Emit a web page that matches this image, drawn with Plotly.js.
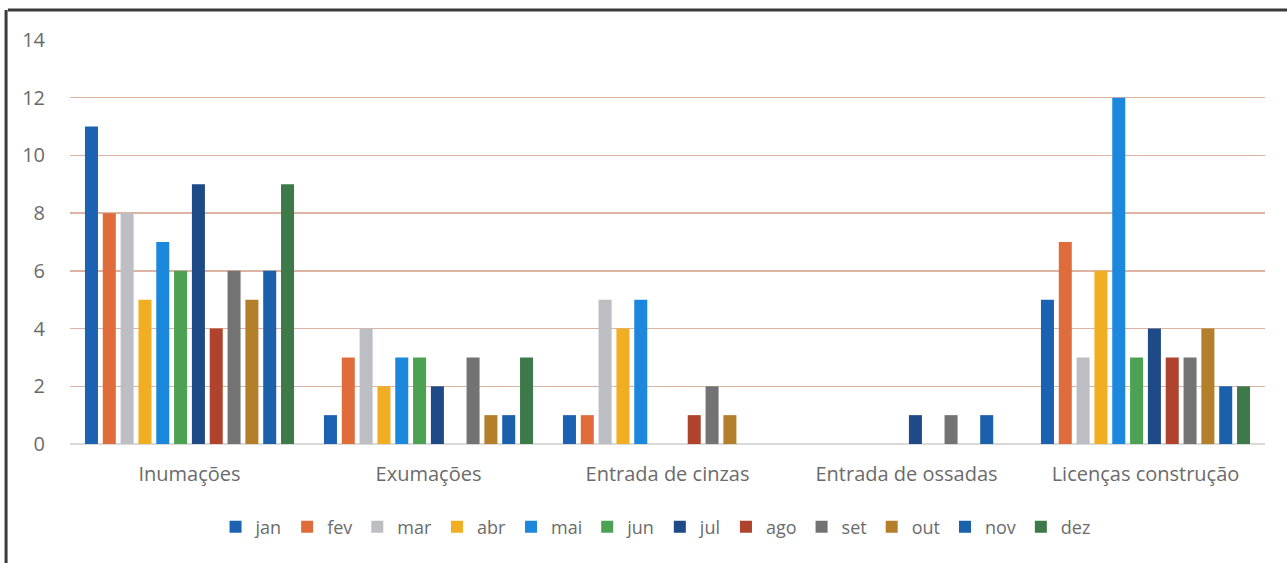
<!DOCTYPE html>
<html>
<head>
<meta charset="utf-8">
<script src="https://cdn.plot.ly/plotly-3.0.1.min.js"></script>
<style>
  html, body { margin: 0; padding: 0; background: #ffffff; }
  #chart { width: 1287px; height: 563px; }
</style>
</head>
<body>
<div id="chart"></div>
<script>
const categories = ["Inumações", "Exumações", "Entrada de cinzas", "Entrada de ossadas", "Licenças construção"];
const months = ["jan", "fev", "mar", "abr", "mai", "jun", "jul", "ago", "set", "out", "nov", "dez"];
const jan = [11, 1, 1, 0, 5];
const fev = [8, 3, 1, 0, 7];
const mar = [8, 4, 5, 0, 3];
const abr = [5, 2, 4, 0, 6];
const mai = [7, 3, 5, 0, 12];
const jun = [6, 3, 0, 0, 3];
const jul = [9, 2, 0, 1, 4];
const ago = [4, 0, 1, 0, 3];
const set = [6, 3, 2, 1, 3];
const out = [5, 1, 1, 0, 4];
const nov = [6, 1, 0, 1, 2];
const dez = [9, 3, 0, 0, 2];
const seriesValues = [jan, fev, mar, abr, mai, jun, jul, ago, set, out, nov, dez];
const colors = ["#1B62B3", "#E06C3C", "#BDBDC4", "#F2AE22", "#1B88DE", "#4DA153", "#1E4A88", "#B0432E", "#737373", "#B47F2B", "#1A60AA", "#3E7949"];

const traces = months.map((m, i) => ({
  type: "bar",
  name: m,
  x: categories,
  y: seriesValues[i],
  marker: { color: colors[i], line: { width: 0 } },
  hoverinfo: "x+y+name"
}));

const layout = {
  width: 1287,
  height: 563,
  margin: { l: 70, r: 22, t: 40, b: 119 },
  paper_bgcolor: "#ffffff",
  plot_bgcolor: "#ffffff",
  font: { family: "'Open Sans', sans-serif", color: "#6b6b6b", size: 19 },
  barmode: "group",
  bargap: 0.105,
  bargroupgap: 0.27,
  xaxis: {
    type: "category",
    showgrid: false,
    showline: false,
    ticks: "",
    ticklabelstandoff: 16,
    tickfont: { size: 20, color: "#6b6b6b" }
  },
  yaxis: {
    range: [0, 14],
    dtick: 2,
    showgrid: true,
    gridcolor: "#DDB4A4",
    gridwidth: 1.3,
    zeroline: true,
    zerolinecolor: "#D9D9D9",
    zerolinewidth: 1.3,
    showline: false,
    ticks: "",
    ticklabelstandoff: 24,
    tickfont: { size: 20, color: "#6b6b6b" }
  },
  showlegend: true,
  legend: {
    orientation: "h",
    x: 0.49,
    xanchor: "center",
    y: -0.16,
    yanchor: "top",
    font: { size: 18, color: "#6b6b6b" },
    itemwidth: 30,
    tracegroupgap: 0
  },
  shapes: [
    { type: "line", xref: "paper", yref: "paper", x0: -0.052, x1: 1.02, y0: 1.074, y1: 1.074, line: { color: "#3a3a3a", width: 3 } },
    { type: "line", xref: "paper", yref: "paper", x0: -0.0535, x1: -0.0535, y0: 1.074, y1: -0.3, line: { color: "#3a3a3a", width: 3 } }
  ]
};

Plotly.newPlot("chart", traces, layout, { displayModeBar: false, staticPlot: true });
</script>
</body>
</html>
